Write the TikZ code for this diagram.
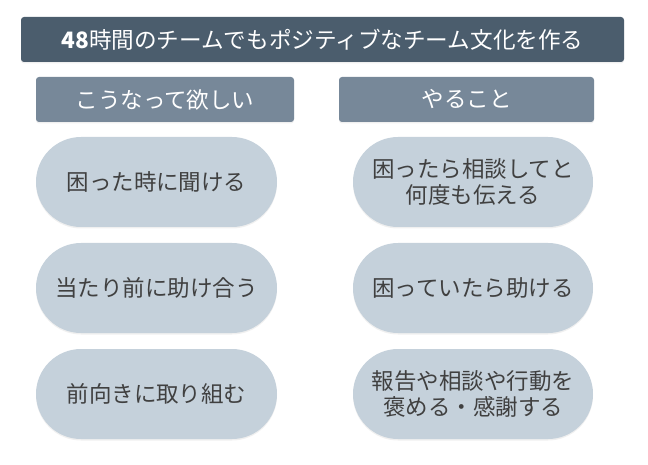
\documentclass[tikz,border=0pt]{standalone}
\usepackage{fontspec}
\setmainfont{Noto Sans CJK JP}
\usepackage{tikz}
\usetikzlibrary{shadows}
\definecolor{titlebg}{HTML}{4B5D6D}
\definecolor{headbg}{HTML}{778899}
\definecolor{pillbg}{HTML}{C5D1DB}
\definecolor{pilltext}{HTML}{404040}
\tikzset{
  softshadow/.style={drop shadow={shadow xshift=0pt,shadow yshift=-1.5pt,opacity=0.12}},
  titlebar/.style={fill=titlebg,rounded corners=3pt,text=white,inner sep=0pt,
    minimum width=603pt,minimum height=45pt,font=\fontsize{22.6}{26}\selectfont,softshadow},
  headbox/.style={fill=headbg,rounded corners=3pt,text=white,inner sep=0pt,
    minimum height=45pt,font=\fontsize{22.5}{26}\selectfont,softshadow},
  pill/.style={fill=pillbg,rounded corners=45pt,text=pilltext,inner sep=0pt,align=center,
    minimum width=241pt,minimum height=90pt,font=\fontsize{22.5}{26}\selectfont,softshadow}
}

\begin{document}
\begin{tikzpicture}[x=1pt,y=-1pt]
\useasboundingbox (0,0) rectangle (648,465);

\node[titlebar] (title) at (322.5,39.5) {\textbf{48}時間のチームでもポジティブなチーム文化を作る};

\node[headbox,minimum width=258pt] (want) at (165,99.5) {こうなって欲しい};
\node[headbox,minimum width=255pt] (todo) at (466.5,99.5) {やること};

\node[pill] (w1) at (156.5,182) {困った時に聞ける};
\node[pill] (w2) at (156.5,288) {当たり前に助け合う};
\node[pill] (w3) at (156.5,394) {前向きに取り組む};

\node[pill,minimum width=240pt] (t1) at (473,182) {困ったら相談してと\\何度も伝える};
\node[pill,minimum width=240pt] (t2) at (473,288) {困っていたら助ける};
\node[pill,minimum width=240pt] (t3) at (473,394) {報告や相談や行動を\\褒める・感謝する};
\end{tikzpicture}
\end{document}
